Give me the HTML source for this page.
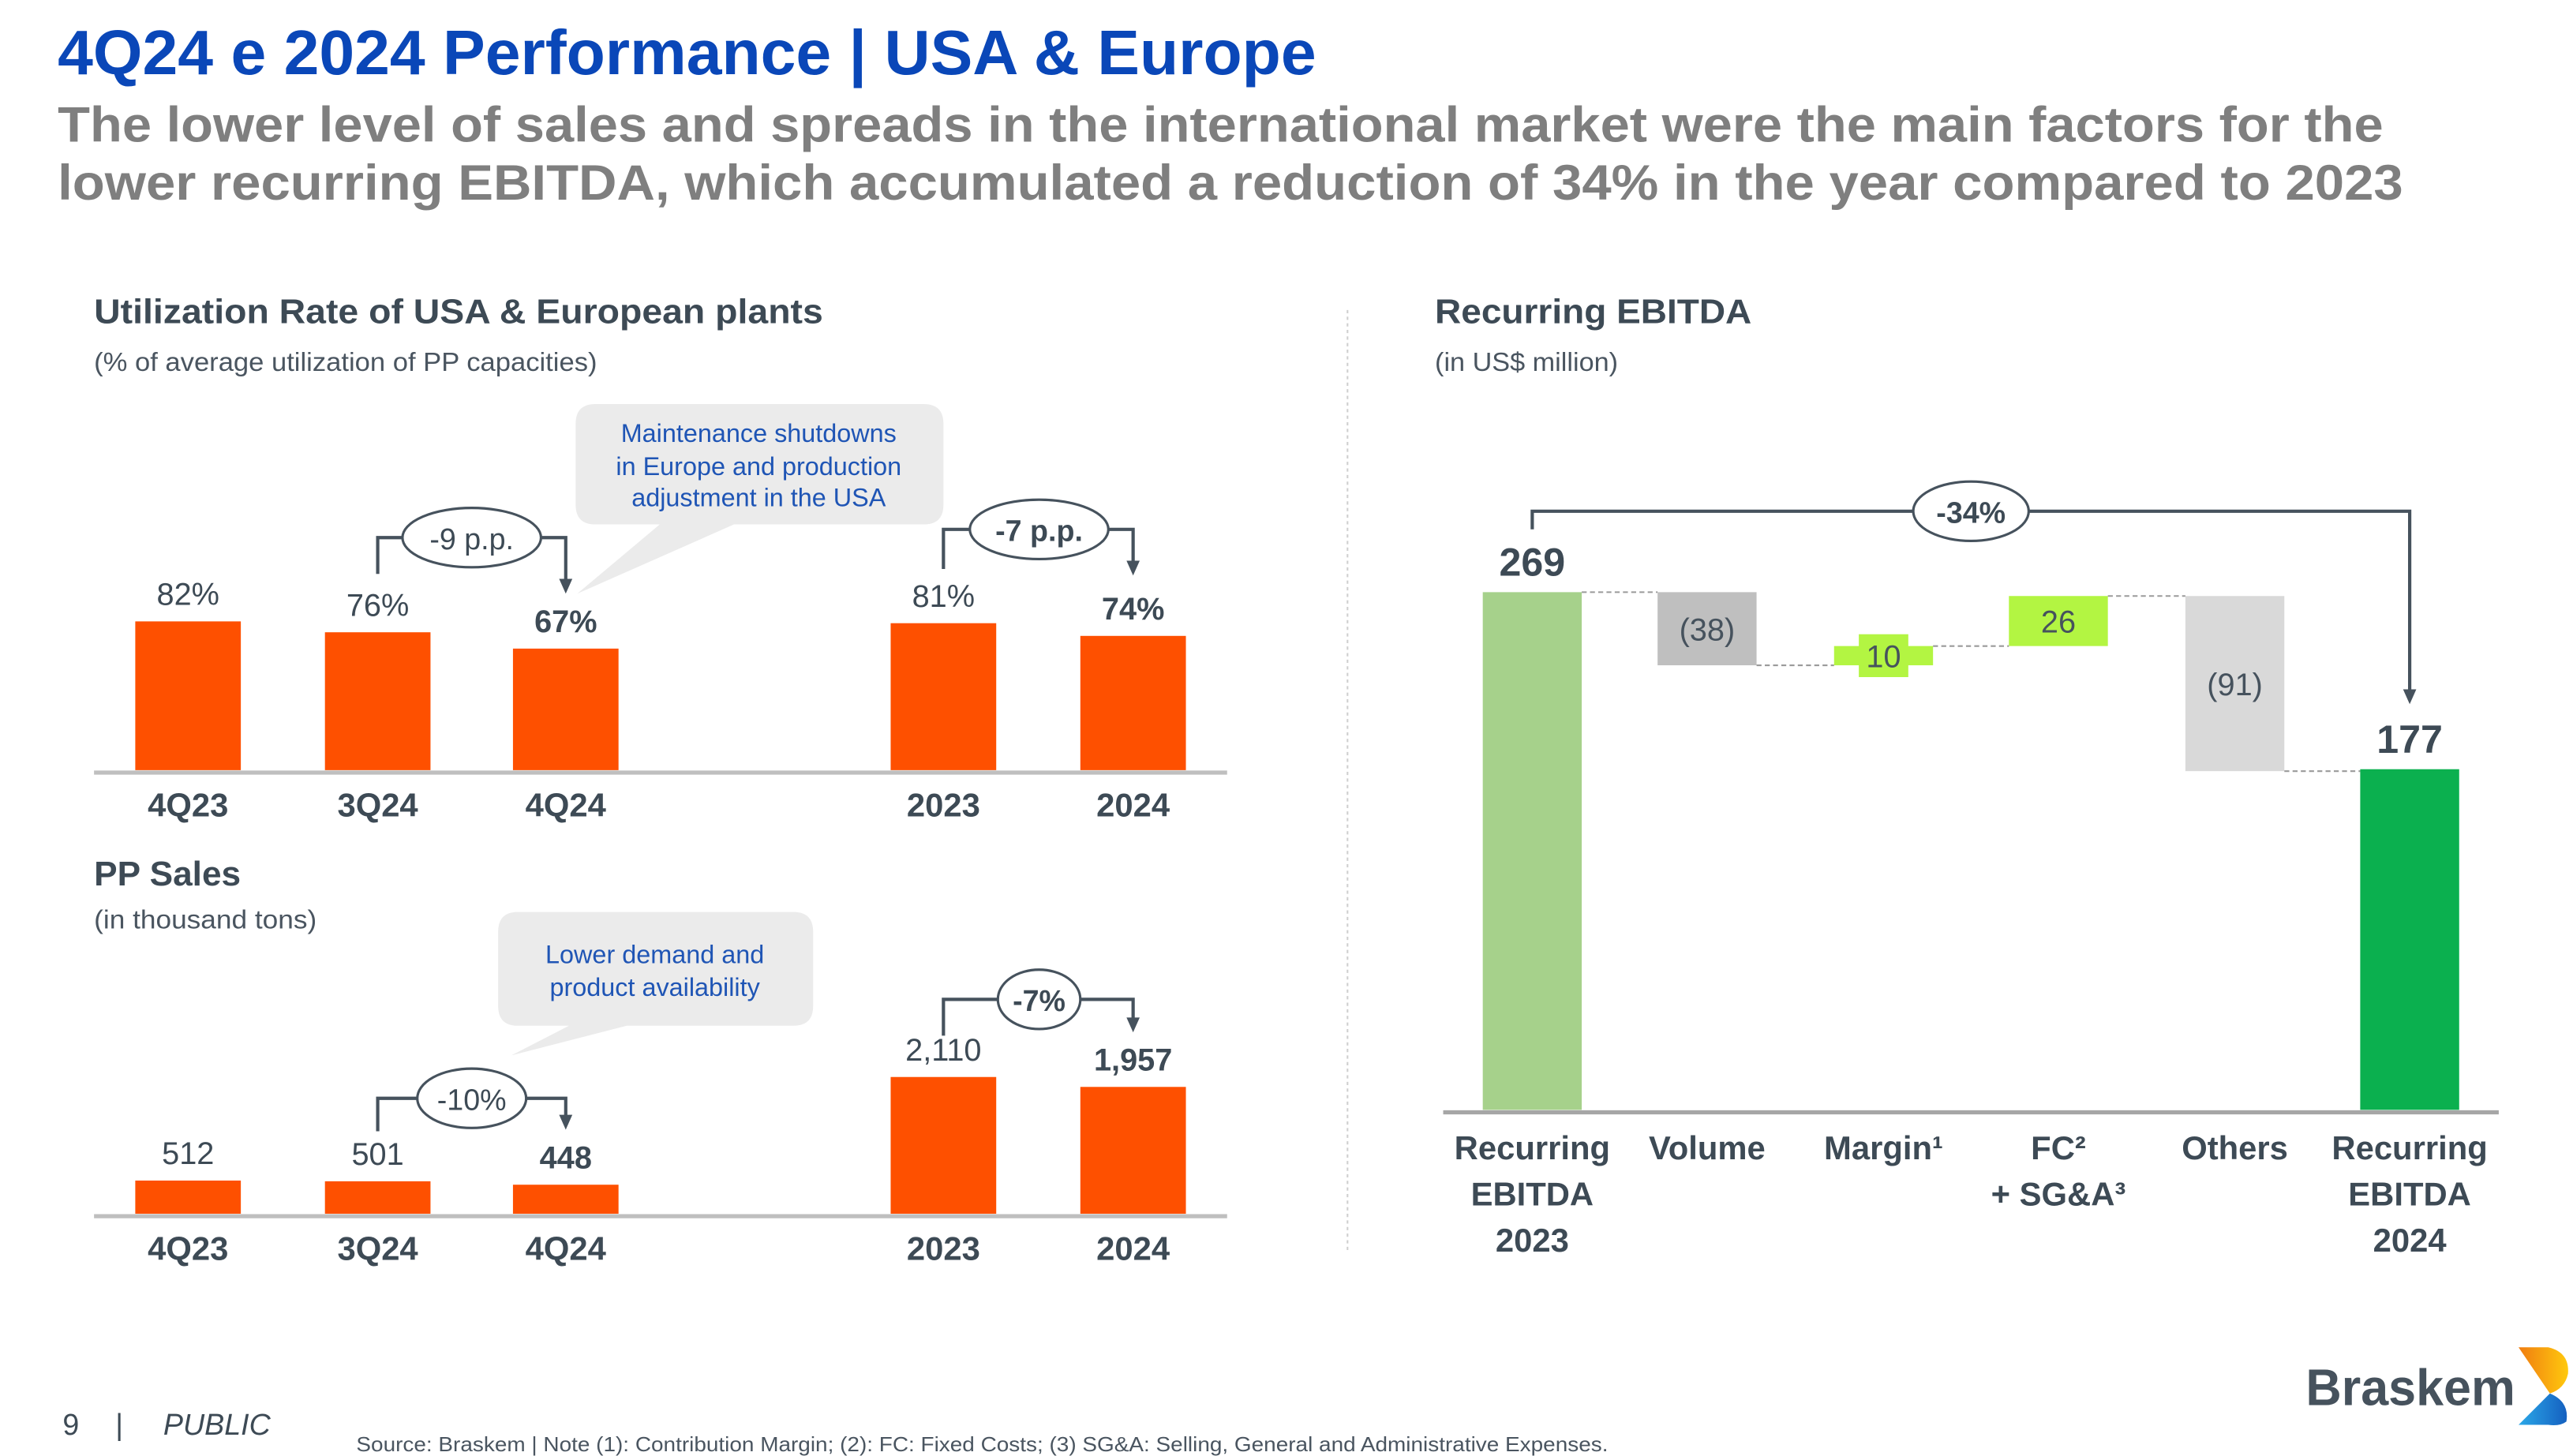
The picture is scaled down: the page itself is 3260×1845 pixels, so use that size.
<!DOCTYPE html>
<html><head><meta charset="utf-8"><style>
html,body{margin:0;padding:0;background:#fff;}
svg{display:block;font-family:"Liberation Sans",sans-serif;}
</style></head><body>
<svg id="s" width="3260" height="1845" viewBox="0 0 1560 882.9" xmlns="http://www.w3.org/2000/svg">
<defs>
<linearGradient id="gTop" x1="0" y1="0" x2="1" y2="0"><stop offset="0" stop-color="#f07d10"/><stop offset="1" stop-color="#ffc90e"/></linearGradient>
<linearGradient id="gBot" x1="0" y1="0" x2="1" y2="0"><stop offset="0" stop-color="#2aa8e8"/><stop offset="1" stop-color="#1560c0"/></linearGradient>
</defs>
<text x="35" y="45" font-size="38" font-weight="bold" fill="#0a47b8" textLength="763" lengthAdjust="spacingAndGlyphs">4Q24 e 2024 Performance | USA &amp; Europe</text>
<text x="35" y="86" font-size="30" font-weight="bold" fill="#7f7f7f" textLength="1410" lengthAdjust="spacingAndGlyphs">The lower level of sales and spreads in the international market were the main factors for the</text>
<text x="35" y="121" font-size="30" font-weight="bold" fill="#7f7f7f" textLength="1422" lengthAdjust="spacingAndGlyphs">lower recurring EBITDA, which accumulated a reduction of 34% in the year compared to 2023</text>

<text x="57" y="196" font-size="21" font-weight="bold" fill="#3d4a55" textLength="442" lengthAdjust="spacingAndGlyphs">Utilization Rate of USA &amp; European plants</text>
<text x="57" y="225" font-size="16" fill="#4a5560" textLength="305" lengthAdjust="spacingAndGlyphs">(% of average utilization of PP capacities)</text>
<text x="57" y="537" font-size="21" font-weight="bold" fill="#3d4a55" textLength="89" lengthAdjust="spacingAndGlyphs">PP Sales</text>
<text x="57" y="563" font-size="16" fill="#4a5560" textLength="135" lengthAdjust="spacingAndGlyphs">(in thousand tons)</text>

<line x1="817" y1="188" x2="817" y2="760" stroke="#cfcfcf" stroke-width="1" stroke-dasharray="2,2"/>

<text x="870" y="196" font-size="21" font-weight="bold" fill="#3d4a55" textLength="192" lengthAdjust="spacingAndGlyphs">Recurring EBITDA</text>
<text x="870" y="225" font-size="16" fill="#4a5560" textLength="111" lengthAdjust="spacingAndGlyphs">(in US$ million)</text>

<!-- callouts -->
<g>
<path d="M361,245 H560 Q572,245 572,257 V306 Q572,318 560,318 H445 L350,360 L400,318 H361 Q349,318 349,306 V257 Q349,245 361,245 Z" fill="#ebebeb"/>
<text x="460" y="268" font-size="15.5" fill="#1f55b5" text-anchor="middle">Maintenance shutdowns</text>
<text x="460" y="288" font-size="15.5" fill="#1f55b5" text-anchor="middle">in Europe and production</text>
<text x="460" y="307" font-size="15.5" fill="#1f55b5" text-anchor="middle">adjustment in the USA</text>
</g>
<g>
<path d="M314,553 H481 Q493,553 493,565 V610 Q493,622 481,622 H380 L310,640 L345,622 H314 Q302,622 302,610 V565 Q302,553 314,553 Z" fill="#ebebeb"/>
<text x="397" y="584" font-size="15.5" fill="#1f55b5" text-anchor="middle">Lower demand and</text>
<text x="397" y="604" font-size="15.5" fill="#1f55b5" text-anchor="middle">product availability</text>
</g>

<g id="charts"></g>

<!-- footer -->
<text x="38" y="870" font-size="18" fill="#3d4a55">9</text>
<text x="70" y="870" font-size="18" fill="#3d4a55">|</text>
<text x="99" y="870" font-size="18" font-style="italic" fill="#3d4a55">PUBLIC</text>
<text x="216" y="880" font-size="12.5" fill="#4a5560" textLength="759" lengthAdjust="spacingAndGlyphs">Source: Braskem | Note (1): Contribution Margin; (2): FC: Fixed Costs; (3) SG&amp;A: Selling, General and Administrative Expenses.</text>
<g>
<text x="1398" y="852" font-size="31" font-weight="bold" fill="#46525d" textLength="127" lengthAdjust="spacingAndGlyphs">Braskem</text>
<path d="M1527,817 H1545 Q1558,820 1557,833 Q1555,842 1546,845 L1527,817 Z" fill="url(#gTop)"/>
<path d="M1546,845 Q1558,850 1556,862 Q1552,865 1545,864 H1527 L1546,845 Z" fill="url(#gBot)"/>
</g>
</svg>
<script>
var NS='http://www.w3.org/2000/svg';
var util_categories=['4Q23','3Q24','4Q24','2023','2024'];
var util_values=[82,76,67,81,74];
var util_labels=['82%','76%','67%','81%','74%'];
var sales_categories=['4Q23','3Q24','4Q24','2023','2024'];
var sales_values=[512,501,448,2110,1957];
var sales_labels=['512','501','448','2,110','1,957'];
var bold_index=[2,4];
var wf_categories=[['Recurring','EBITDA','2023'],['Volume'],['Margin¹'],['FC²','+ SG&A³'],['Others'],['Recurring','EBITDA','2024']];
var wf_values=[269,-38,10,26,-91,177];
var wf_labels=['269','(38)','10','26','(91)','177'];
var wf_types=['total','delta','delta','delta','delta','total'];

var root=document.getElementById('charts');
function mk(tag,attrs,parent){var e=document.createElementNS(NS,tag);for(var k in attrs)e.setAttribute(k,attrs[k]);(parent||root).appendChild(e);return e;}
function txt(x,y,s,size,bold,fill,anchor,parent){var t=mk('text',{x:x,y:y,'font-size':size,'font-weight':bold?'bold':'normal',fill:fill,'text-anchor':anchor||'middle'},parent);t.textContent=s;return t;}

var barX=[114,229,343,572,687];
function barChart(cats,vals,labels,base,pxPer,name){
  var g=mk('g',{});
  
  
  for(var i=0;i<vals.length;i++){
    var h=vals[i]*pxPer, y=base-h;
    var r=mk('rect',{x:barX[i]-32,y:y,width:64,height:h,fill:'#fe5000'},g);
    
    
    var b=bold_index.indexOf(i)>=0;
    var l=txt(barX[i],y-10,labels[i],19,b,'#3d4a55','middle',g);
    
    
    var c=txt(barX[i],base+28,cats[i],20,true,'#3d4a55','middle',g);
    
    
  }
  var ax=mk('line',{x1:57,y1:base+1.5,x2:744,y2:base+1.5,stroke:'#bfbfbf','stroke-width':2.5},g);
  
  
}
barChart(util_categories,util_values,util_labels,467,1.1,'utilization-chart');
barChart(sales_categories,sales_values,sales_labels,736,0.0393,'pp-sales-chart');

function bracket(x1,x2,y,yl,ya,cx,rx,label,name){
  var g=mk('g',{});
  
  
  mk('path',{d:'M'+x1+','+yl+' V'+y+' H'+x2+' V'+(ya-8),fill:'none',stroke:'#46525d','stroke-width':2},g);
  mk('path',{d:'M'+(x2-4)+','+(ya-9)+' L'+(x2+4)+','+(ya-9)+' L'+x2+','+ya+' Z',fill:'#46525d'},g);
  mk('ellipse',{cx:cx,cy:y,rx:rx,ry:18,fill:'#fff',stroke:'#46525d','stroke-width':1.5},g);
  txt(cx,y+7,label,18,label.indexOf('9')<0&&label.indexOf('10')<0,'#3d4a55','middle',g);
}
bracket(229,343,326,348,360,286,42,'-9 p.p.','bracket-9pp');
bracket(572,687,321,345,349,630,42,'-7 p.p.','bracket-7pp');
bracket(229,343,666,686,685,286,33,'-10%','bracket-10pct');
bracket(572,687,606,628,626,630,25,'-7%','bracket-7pct');

// waterfall
var wfBase=673, wfPx=1.167, wfX=[929,1035,1142,1248,1355,1461], wfW=60;
var wfColors=['#a6d18b','#bfbfbf','#b3f542','#b3f542','#d9d9d9','#0bb04f'];
var wg=mk('g',{});


var run=0, prevTop=null;
for(var i=0;i<wf_values.length;i++){
  var v=wf_values[i], y0, y1;
  if(wf_types[i]==='total'){y0=wfBase-v*wfPx;y1=wfBase;run=v;var endLvl=v;}
  else{var a=run,b=run+v;y0=wfBase-Math.max(a,b)*wfPx;y1=wfBase-Math.min(a,b)*wfPx;run=b;var endLvl=b;}
  if(i>0){var lv=wfBase-prevLvl*wfPx;
    var dl=mk('line',{x1:wfX[i-1]+wfW/2,y1:lv,x2:wfX[i]-wfW/2,y2:lv,stroke:'#9a9a9a','stroke-width':1,'stroke-dasharray':'3,2'},wg);
    
    }
  var prevLvl=endLvl;
  if(i===2){var lb=mk('rect',{x:wfX[i]-15,y:(y0+y1)/2-13,width:30,height:26,fill:wfColors[i]},wg);
    
    }
  var r=mk('rect',{x:wfX[i]-wfW/2,y:y0,width:wfW,height:y1-y0,fill:wfColors[i]},wg);
  
  
  var t;
  if(wf_types[i]==='total') t=txt(wfX[i],y0-10,wf_labels[i],24,true,'#3d4a55','middle',wg);
  else t=txt(wfX[i],(y0+y1)/2+7,wf_labels[i],19,false,'#46525d','middle',wg);
  
  
  var cat=wf_categories[i];
  for(var j=0;j<cat.length;j++){
    var c=txt(wfX[i],wfBase+30+j*28,cat[j],20,true,'#3d4a55','middle',wg);
    
    
  }
}
var wax=mk('line',{x1:875,y1:wfBase+1.5,x2:1515,y2:wfBase+1.5,stroke:'#a6a6a6','stroke-width':2.5},wg);


bracket(929,1461,310,321,427,1195,35,'-34%','bracket-34pct');
</script>
</body></html>
